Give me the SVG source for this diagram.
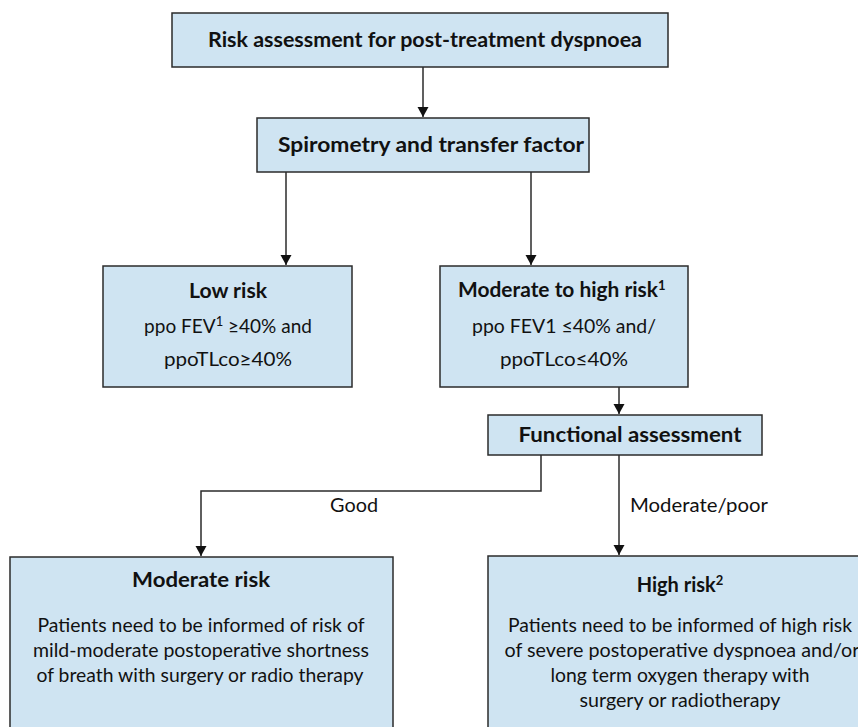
<svg xmlns="http://www.w3.org/2000/svg" width="858" height="727" viewBox="0 0 858 727">
  <style>
    .box { fill: #cfe4f2; stroke: #2b2b2b; stroke-width: 1.5; }
    .t { font-family: Lato, "Liberation Sans", sans-serif; font-size: 19px; fill: #111; text-anchor: middle; }
    .b { font-weight: bold; font-size: 20px; }
    .lbl { font-family: Lato, "Liberation Sans", sans-serif; font-size: 18.5px; fill: #111; }
    .conn { fill: none; stroke: #2b2b2b; stroke-width: 1.5; }
  </style>
  <defs>
    <marker id="arrow" markerWidth="12" markerHeight="12" refX="10" refY="6" orient="auto" markerUnits="userSpaceOnUse">
      <path d="M0,0.5 L10,6 L0,11.5 Z" fill="#111"/>
    </marker>
  </defs>

  <g id="connectors">
    <path class="conn" d="M423,67 V117" marker-end="url(#arrow)"/>
    <path class="conn" d="M286,172 V265" marker-end="url(#arrow)"/>
    <path class="conn" d="M531,172 V265" marker-end="url(#arrow)"/>
    <path class="conn" d="M619,387 V414" marker-end="url(#arrow)"/>
    <path class="conn" d="M541,455 V491 H201 V556" marker-end="url(#arrow)"/>
    <path class="conn" d="M619,455 V555" marker-end="url(#arrow)"/>
    <text class="lbl" x="330" y="512" textLength="48" lengthAdjust="spacingAndGlyphs">Good</text>
    <text class="lbl" x="630" y="512" textLength="138" lengthAdjust="spacingAndGlyphs">Moderate/poor</text>
  </g>

  <g id="risk-assessment">
    <rect class="box" x="172" y="13" width="496" height="54"/>
    <text class="t b" x="425" y="47" textLength="434" lengthAdjust="spacingAndGlyphs">Risk assessment for post-treatment dyspnoea</text>
  </g>

  <g id="spirometry">
    <rect class="box" x="257" y="118" width="332" height="54"/>
    <text class="t b" x="431" y="152" textLength="306" lengthAdjust="spacingAndGlyphs">Spirometry and transfer factor</text>
  </g>

  <g id="low-risk">
    <rect class="box" x="103" y="266" width="249" height="121"/>
    <text class="t b" x="228" y="298" textLength="78" lengthAdjust="spacingAndGlyphs">Low risk</text>
    <text class="t" x="228" y="333">ppo FEV<tspan font-size="13" dy="-7">1</tspan><tspan dy="7"> ≥40% and</tspan></text>
    <text class="t" x="228" y="366" textLength="128" lengthAdjust="spacingAndGlyphs">ppoTLco≥40%</text>
  </g>

  <g id="moderate-high-risk">
    <rect class="box" x="440" y="266" width="248" height="121"/>
    <text class="t b" x="458" y="297" style="text-anchor:start"><tspan textLength="200" lengthAdjust="spacingAndGlyphs">Moderate to high risk</tspan><tspan font-size="13" dy="-7">1</tspan></text>
    <text class="t" x="564" y="333" textLength="184" lengthAdjust="spacingAndGlyphs">ppo FEV1 ≤40% and/</text>
    <text class="t" x="564" y="366" textLength="128" lengthAdjust="spacingAndGlyphs">ppoTLco≤40%</text>
  </g>

  <g id="functional-assessment">
    <rect class="box" x="488" y="415" width="274" height="40"/>
    <text class="t b" x="630" y="442" textLength="223" lengthAdjust="spacingAndGlyphs">Functional assessment</text>
  </g>

  <g id="moderate-risk">
    <rect class="box" x="10" y="557" width="383" height="180"/>
    <text class="t b" x="201" y="587" textLength="138" lengthAdjust="spacingAndGlyphs">Moderate risk</text>
    <text class="t" x="201" y="632" textLength="327" lengthAdjust="spacingAndGlyphs">Patients need to be informed of risk of</text>
    <text class="t" x="201" y="657" textLength="336" lengthAdjust="spacingAndGlyphs">mild-moderate postoperative shortness</text>
    <text class="t" x="200" y="682" textLength="327" lengthAdjust="spacingAndGlyphs">of breath with surgery or radio therapy</text>
  </g>

  <g id="high-risk">
    <rect class="box" x="488" y="556" width="390" height="181"/>
    <text class="t b" x="680" y="592">High risk<tspan font-size="13" dy="-7">2</tspan></text>
    <text class="t" x="680" y="632" textLength="344" lengthAdjust="spacingAndGlyphs">Patients need to be informed of high risk</text>
    <text class="t" x="682" y="657" textLength="355" lengthAdjust="spacingAndGlyphs">of severe postoperative dyspnoea and/or</text>
    <text class="t" x="680" y="682" textLength="259" lengthAdjust="spacingAndGlyphs">long term oxygen therapy with</text>
    <text class="t" x="680" y="707" textLength="201" lengthAdjust="spacingAndGlyphs">surgery or radiotherapy</text>
  </g>
</svg>
